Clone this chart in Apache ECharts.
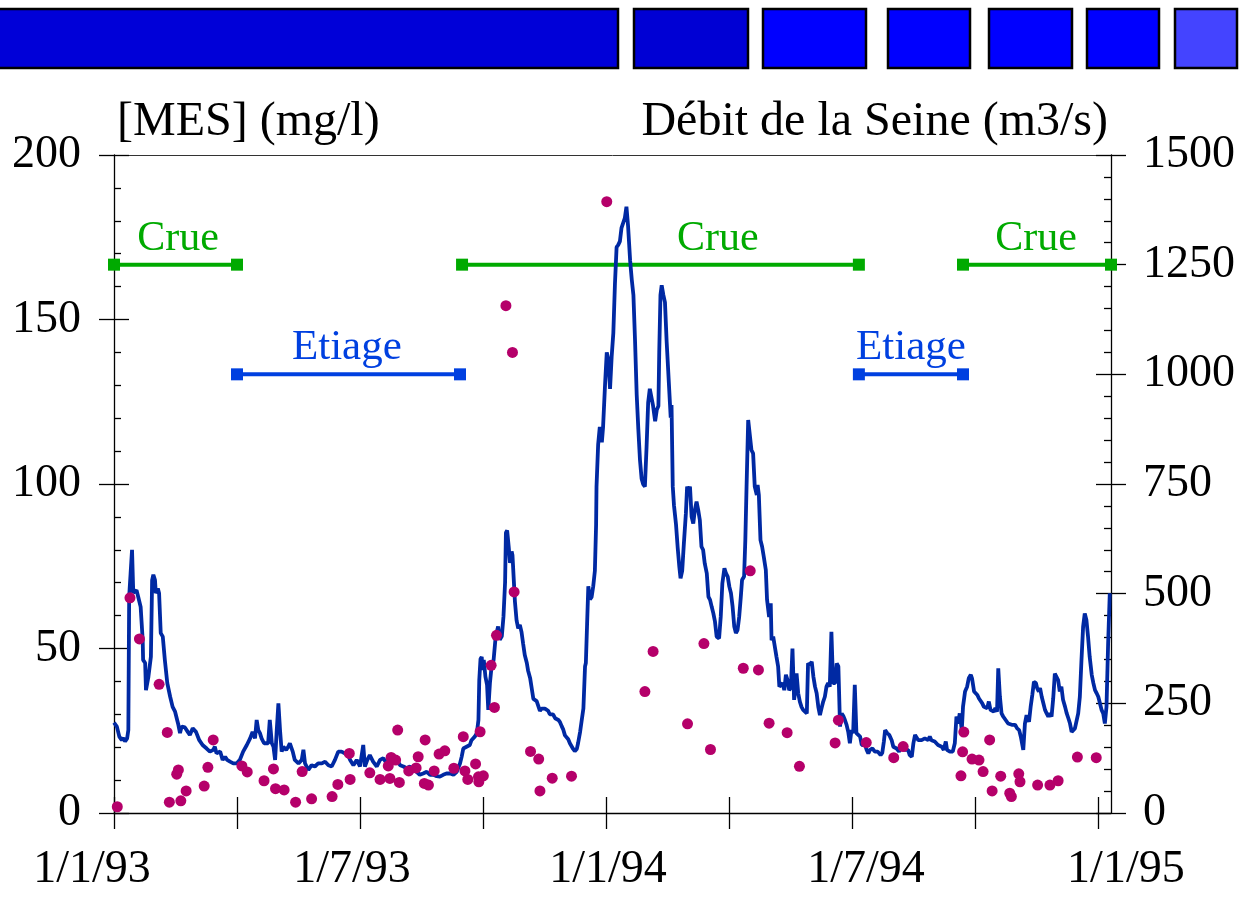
<!DOCTYPE html>
<html>
<head>
<meta charset="utf-8">
<script src="https://cdn.jsdelivr.net/npm/echarts@6/dist/echarts.min.js"></script>
<style>html,body{margin:0;padding:0;background:#fff}#c{width:1240px;height:897px}</style>
</head>
<body>
<div id="c"></div>
<script>
// x values are months since 1/1/93
const xTickMonths = [0, 3, 6, 9, 12, 15, 18, 21, 24];
const xLabelMonths = [0, 6, 12, 18, 24];
const xLabels = ['1/1/93', '1/7/93', '1/1/94', '1/7/94', '1/1/95'];

// Débit de la Seine (m3/s) : [month, flow]
const flow = [[0.00,206],[0.07,197],[0.13,174],[0.19,166],[0.23,171],[0.27,163],[0.32,170],[0.35,189],[0.37,493],[0.44,600],[0.47,502],[0.51,504],[0.55,508],[0.59,493],[0.65,470],[0.70,394],[0.71,349],[0.76,342],[0.78,280],[0.84,311],[0.90,356],[0.93,531],[0.96,543],[1.00,531],[1.02,501],[1.07,512],[1.10,501],[1.14,410],[1.19,402],[1.24,349],[1.30,296],[1.37,265],[1.43,242],[1.49,231],[1.57,201],[1.61,182],[1.65,197],[1.73,195],[1.80,185],[1.85,178],[1.92,193],[2.00,185],[2.08,166],[2.16,155],[2.26,147],[2.34,140],[2.42,144],[2.46,151],[2.50,136],[2.59,140],[2.65,121],[2.71,128],[2.76,121],[2.83,117],[2.91,113],[2.99,113],[3.07,121],[3.15,140],[3.24,155],[3.32,170],[3.38,185],[3.44,170],[3.48,212],[3.52,189],[3.56,182],[3.60,170],[3.66,159],[3.76,159],[3.80,212],[3.85,159],[3.89,151],[3.93,121],[3.97,189],[4.01,250],[4.05,189],[4.09,140],[4.13,151],[4.20,144],[4.25,151],[4.29,159],[4.36,140],[4.41,121],[4.50,113],[4.58,121],[4.62,144],[4.66,113],[4.74,98],[4.82,109],[4.90,106],[4.98,113],[5.07,113],[5.15,117],[5.23,109],[5.31,106],[5.39,121],[5.47,140],[5.55,140],[5.63,136],[5.71,132],[5.76,121],[5.84,109],[5.92,121],[6.00,106],[6.08,155],[6.12,106],[6.18,121],[6.24,132],[6.32,117],[6.41,106],[6.49,121],[6.57,125],[6.65,113],[6.73,117],[6.81,125],[6.90,121],[6.98,109],[7.06,106],[7.14,102],[7.22,106],[7.30,98],[7.38,94],[7.46,87],[7.54,90],[7.63,94],[7.71,87],[7.79,87],[7.87,84],[7.95,83],[8.03,87],[8.11,90],[8.20,90],[8.28,87],[8.36,94],[8.44,113],[8.48,128],[8.52,147],[8.60,151],[8.68,155],[8.72,166],[8.76,163],[8.80,174],[8.85,182],[8.89,212],[8.91,303],[8.94,351],[8.97,356],[8.99,326],[9.02,349],[9.06,311],[9.10,292],[9.13,235],[9.17,296],[9.21,334],[9.26,349],[9.31,402],[9.37,425],[9.41,395],[9.46,403],[9.50,447],[9.54,526],[9.56,639],[9.59,644],[9.63,605],[9.66,570],[9.70,596],[9.72,588],[9.76,517],[9.78,482],[9.82,439],[9.86,421],[9.90,429],[9.94,413],[9.98,386],[10.02,360],[10.07,342],[10.10,325],[10.15,308],[10.19,308],[10.23,260],[10.31,255],[10.39,233],[10.43,238],[10.51,238],[10.59,233],[10.63,225],[10.71,225],[10.76,216],[10.84,212],[10.88,207],[10.92,198],[10.96,190],[11.00,177],[11.08,168],[11.12,159],[11.16,155],[11.20,146],[11.24,141],[11.29,146],[11.32,159],[11.37,185],[11.41,212],[11.45,238],[11.49,334],[11.51,342],[11.54,430],[11.57,517],[11.61,487],[11.65,492],[11.69,517],[11.73,552],[11.76,657],[11.77,744],[11.81,840],[11.85,880],[11.90,845],[11.93,880],[11.98,980],[12.02,1050],[12.06,1033],[12.10,967],[12.14,1041],[12.18,1094],[12.22,1207],[12.26,1290],[12.30,1295],[12.34,1303],[12.38,1334],[12.42,1338],[12.46,1356],[12.50,1382],[12.54,1338],[12.59,1259],[12.63,1216],[12.67,1181],[12.71,1076],[12.75,954],[12.79,875],[12.83,805],[12.87,762],[12.91,749],[12.95,744],[12.99,832],[13.03,936],[13.07,967],[13.11,964],[13.15,928],[13.20,893],[13.24,919],[13.28,928],[13.30,1050],[13.33,1181],[13.36,1203],[13.40,1181],[13.44,1164],[13.48,1076],[13.52,1006],[13.56,936],[13.58,901],[13.60,930],[13.63,744],[13.66,701],[13.71,657],[13.75,605],[13.79,561],[13.82,535],[13.86,552],[13.90,613],[13.95,683],[13.98,744],[14.02,735],[14.05,744],[14.09,675],[14.13,660],[14.17,691],[14.21,710],[14.25,691],[14.29,668],[14.33,607],[14.37,600],[14.41,569],[14.46,546],[14.50,493],[14.54,486],[14.58,470],[14.62,455],[14.66,436],[14.70,402],[14.76,398],[14.80,447],[14.84,524],[14.89,558],[14.93,546],[14.97,539],[15.01,516],[15.05,501],[15.09,470],[15.13,425],[15.17,410],[15.21,417],[15.25,447],[15.29,493],[15.32,531],[15.37,539],[15.40,622],[15.43,744],[15.47,896],[15.51,892],[15.55,827],[15.59,820],[15.63,744],[15.68,725],[15.70,748],[15.73,725],[15.77,622],[15.81,607],[15.85,584],[15.90,554],[15.93,486],[15.98,447],[16.02,478],[16.04,394],[16.08,402],[16.12,379],[16.16,356],[16.20,334],[16.23,288],[16.27,288],[16.31,296],[16.35,280],[16.39,315],[16.43,303],[16.47,280],[16.51,285],[16.55,375],[16.59,258],[16.62,280],[16.65,318],[16.69,273],[16.73,254],[16.77,242],[16.81,235],[16.90,227],[16.93,341],[16.98,337],[17.02,345],[17.06,311],[17.10,288],[17.14,273],[17.18,242],[17.22,223],[17.26,239],[17.30,254],[17.34,265],[17.38,288],[17.42,296],[17.46,288],[17.50,413],[17.54,296],[17.59,296],[17.63,341],[17.67,334],[17.71,197],[17.75,227],[17.79,221],[17.83,212],[17.87,201],[17.91,185],[17.95,159],[17.99,189],[18.03,182],[18.07,292],[18.11,182],[18.15,182],[18.20,174],[18.24,155],[18.28,159],[18.32,155],[18.36,144],[18.40,136],[18.44,144],[18.50,147],[18.56,140],[18.63,140],[18.70,132],[18.74,137],[18.78,163],[18.81,189],[18.86,182],[18.91,178],[18.97,166],[19.01,151],[19.09,147],[19.15,140],[19.21,151],[19.29,144],[19.37,144],[19.41,132],[19.46,128],[19.50,159],[19.54,178],[19.62,166],[19.70,166],[19.78,170],[19.86,166],[19.90,174],[19.94,166],[20.02,163],[20.10,155],[20.19,151],[20.24,144],[20.29,163],[20.32,144],[20.39,140],[20.46,140],[20.51,159],[20.55,220],[20.59,204],[20.63,227],[20.68,189],[20.71,242],[20.76,277],[20.81,288],[20.85,307],[20.90,315],[20.93,307],[20.98,277],[21.02,280],[21.06,269],[21.10,261],[21.14,265],[21.18,250],[21.22,242],[21.26,246],[21.30,239],[21.34,254],[21.38,235],[21.42,239],[21.46,231],[21.50,239],[21.54,231],[21.57,330],[21.61,265],[21.65,227],[21.69,220],[21.75,212],[21.81,204],[21.90,201],[21.98,201],[22.03,193],[22.08,189],[22.12,174],[22.18,144],[22.22,204],[22.26,223],[22.32,208],[22.36,242],[22.40,269],[22.44,299],[22.49,296],[22.52,284],[22.56,277],[22.59,285],[22.63,265],[22.67,250],[22.71,235],[22.75,227],[22.79,220],[22.83,227],[22.87,220],[22.91,261],[22.95,318],[22.99,315],[23.03,303],[23.07,277],[23.11,288],[23.15,258],[23.20,242],[23.24,227],[23.28,216],[23.32,204],[23.36,185],[23.40,182],[23.44,193],[23.48,197],[23.52,227],[23.56,265],[23.60,349],[23.64,425],[23.68,455],[23.72,440],[23.76,402],[23.80,356],[23.85,315],[23.89,296],[23.93,280],[23.97,273],[24.01,265],[24.05,250],[24.09,235],[24.13,227],[24.17,204],[24.21,242],[24.25,387],[24.29,501]];

// [MES] (mg/l) : [month, concentration]
const mes = [[0.08,1.9],[0.39,65.4],[0.62,52.9],[1.10,39.1],[1.30,24.5],[1.35,3.3],[1.53,11.8],[1.57,13.1],[1.63,3.7],[1.76,6.7],[2.20,8.2],[2.29,13.9],[2.42,22.2],[3.12,14.3],[3.25,12.5],[3.66,9.8],[3.89,13.4],[3.94,7.4],[4.15,7.0],[4.43,3.3],[4.59,12.6],[4.82,4.3],[5.32,5.0],[5.46,8.7],[5.74,18.1],[5.76,10.2],[6.24,12.2],[6.49,10.2],[6.69,14.3],[6.73,10.5],[6.76,16.9],[6.87,16.1],[6.92,25.2],[6.96,9.3],[7.19,12.8],[7.37,13.7],[7.42,17.1],[7.57,9.0],[7.59,22.2],[7.67,8.5],[7.81,12.8],[7.93,17.9],[8.07,18.9],[8.29,13.6],[8.52,23.2],[8.56,12.8],[8.63,10.2],[8.82,14.9],[8.89,11.0],[8.90,9.5],[8.93,24.7],[9.01,11.3],[9.20,44.9],[9.28,32.1],[9.33,54.0],[9.56,154.2],[9.72,140.0],[9.76,67.2],[10.16,18.7],[10.36,16.4],[10.39,6.7],[10.69,10.6],[11.16,11.2],[12.02,185.8],[12.95,36.9],[13.15,49.1],[13.99,27.1],[14.39,51.5],[14.55,19.3],[15.35,44.0],[15.52,73.6],[15.72,43.5],[15.98,27.3],[16.42,24.4],[16.72,14.2],[17.59,21.3],[17.67,28.2],[18.35,21.4],[19.02,16.8],[19.25,20.2],[20.66,11.3],[20.70,18.6],[20.73,24.6],[20.93,16.4],[21.10,16.1],[21.20,12.6],[21.36,22.2],[21.42,6.7],[21.63,11.2],[21.85,6.0],[21.89,5.0],[22.07,11.9],[22.10,9.5],[22.53,8.5],[22.83,8.5],[23.03,9.8],[23.50,17.0],[23.96,16.8]];

// Hydrological periods (month ranges) drawn at a level of the flow axis
const cruePeriods = [[0, 3.0], [8.49, 18.17], [20.71, 24.32]];
const etiagePeriods = [[3.0, 8.44], [18.17, 20.71]];
const crueLevel = 1250;
const etiageLevel = 1000;
const crueLabelX = [1.56, 14.73, 22.49];
const etiageLabelX = [5.68, 19.44];

const serif = '"Liberation Serif", "DejaVu Serif", serif';
const GREEN = '#00aa00';
const BLUE = '#0040e0';
const xMax = 24.32;
const labelShift = [-22, -8, 2, 14, 28];

const rich = {};
labelShift.forEach((s, i) => {
  rich['l' + i] = {
    fontFamily: serif, fontSize: 46, color: '#000',
    padding: s < 0 ? [0, -2 * s, 0, 0] : [0, 0, 0, 2 * s]
  };
});

const tickStyle = { color: '#000', width: 1.3 };

const series = [];
cruePeriods.forEach(p => series.push({
  type: 'line', xAxisIndex: 0, yAxisIndex: 2, silent: true, z: 2,
  data: [[p[0], crueLevel], [p[1], crueLevel]],
  symbol: 'rect', symbolSize: 12, showSymbol: true,
  lineStyle: { color: GREEN, width: 4 }, itemStyle: { color: GREEN, opacity: 1 }
}));
etiagePeriods.forEach(p => series.push({
  type: 'line', xAxisIndex: 0, yAxisIndex: 2, silent: true, z: 2,
  data: [[p[0], etiageLevel], [p[1], etiageLevel]],
  symbol: 'rect', symbolSize: 12, showSymbol: true,
  lineStyle: { color: BLUE, width: 4 }, itemStyle: { color: BLUE, opacity: 1 }
}));
series.push({
  type: 'scatter', xAxisIndex: 0, yAxisIndex: 2, silent: true, symbolSize: 0, z: 2,
  itemStyle: { opacity: 1 },
  data: crueLabelX.map(x => [x, crueLevel]),
  label: { show: true, position: 'top', distance: 5, formatter: 'Crue', opacity: 1,
           fontFamily: serif, fontSize: 42, color: GREEN }
});
series.push({
  type: 'scatter', xAxisIndex: 0, yAxisIndex: 2, silent: true, symbolSize: 0, z: 2,
  itemStyle: { opacity: 1 },
  data: etiageLabelX.map(x => [x, etiageLevel]),
  label: { show: true, position: 'top', distance: 5, formatter: 'Etiage', opacity: 1,
           fontFamily: serif, fontSize: 43, color: BLUE }
});
series.push({
  name: 'Débit', type: 'line', xAxisIndex: 0, yAxisIndex: 2, z: 3,
  data: flow, showSymbol: false, symbol: 'none',
  lineStyle: { color: '#0029a3', width: 3.8 }
});
series.push({
  name: 'MES', type: 'scatter', xAxisIndex: 0, yAxisIndex: 0, z: 4,
  data: mes, symbolSize: 11, itemStyle: { color: '#b5006a', opacity: 1 }
});

const chart = echarts.init(document.getElementById('c'), null, { renderer: 'canvas' });
chart.setOption({
  animation: false,
  backgroundColor: '#fff',
  grid: { left: 114, right: 129, top: 155, bottom: 84, containLabel: false, outerBoundsMode: 'none' },
  xAxis: [
    { type: 'value', min: 0, max: xMax, position: 'bottom',
      axisLine: { onZero: false, lineStyle: tickStyle },
      axisTick: { show: true, length: 16, customValues: xTickMonths, lineStyle: tickStyle },
      axisLabel: { customValues: xLabelMonths, margin: 34, rich: rich,
        formatter: v => { const i = xLabelMonths.indexOf(v); return i < 0 ? '' : '{l' + i + '|' + xLabels[i] + '}'; } },
      splitLine: { show: false } },
    { type: 'value', min: 0, max: xMax, position: 'bottom',
      axisLine: { show: false, onZero: false },
      axisTick: { show: true, inside: true, length: 16, customValues: xTickMonths, lineStyle: tickStyle },
      axisLabel: { show: false }, splitLine: { show: false } },
    { type: 'value', min: 0, max: xMax, position: 'top',
      axisLine: { onZero: false, lineStyle: { color: '#333', width: 1 } },
      axisTick: { show: false }, axisLabel: { show: false }, splitLine: { show: false } }
  ],
  yAxis: [
    { type: 'value', min: 0, max: 200, interval: 50, position: 'left',
      name: '[MES] (mg/l)', nameLocation: 'end', nameGap: 33,
      nameTextStyle: { fontFamily: serif, fontSize: 48, color: '#000', align: 'left', verticalAlign: 'middle', padding: [0, 0, 0, 3] },
      axisLine: { show: true, onZero: false, lineStyle: tickStyle },
      axisTick: { show: true, length: 15, lineStyle: tickStyle },
      axisLabel: { margin: 33, fontFamily: serif, fontSize: 46, color: '#000', formatter: v => String(v) },
      splitLine: { show: false } },
    { type: 'value', min: 0, max: 200, interval: 50, position: 'left',
      axisLine: { show: false, onZero: false },
      axisTick: { show: true, inside: true, length: 15, lineStyle: tickStyle },
      minorTick: { show: true, splitNumber: 5, length: 7, lineStyle: tickStyle },
      axisLabel: { show: false }, splitLine: { show: false } },
    { type: 'value', min: 0, max: 1500, interval: 250, position: 'right',
      name: 'Débit de la Seine (m3/s)', nameLocation: 'end', nameGap: 33,
      nameTextStyle: { fontFamily: serif, fontSize: 48, color: '#000', align: 'right', verticalAlign: 'middle', padding: [0, 3, 0, 0] },
      axisLine: { show: true, onZero: false, lineStyle: tickStyle },
      axisTick: { show: true, length: 15, lineStyle: tickStyle },
      axisLabel: { margin: 32, fontFamily: serif, fontSize: 46, color: '#000', formatter: v => String(v) },
      splitLine: { show: false } },
    { type: 'value', min: 0, max: 1500, interval: 250, position: 'right',
      axisLine: { show: false, onZero: false },
      axisTick: { show: true, inside: true, length: 15, lineStyle: tickStyle },
      minorTick: { show: true, splitNumber: 5, length: 7, lineStyle: tickStyle },
      axisLabel: { show: false }, splitLine: { show: false } }
  ],
  graphic: [
    { type: 'rect', shape: { x: -3, y: 9, width: 621, height: 59 }, style: { fill: '#0000d8', stroke: '#000', lineWidth: 2.5 } },
    { type: 'rect', shape: { x: 634, y: 9, width: 114, height: 59 }, style: { fill: '#0000d4', stroke: '#000', lineWidth: 2.5 } },
    { type: 'rect', shape: { x: 763, y: 9, width: 103, height: 59 }, style: { fill: '#0000ff', stroke: '#000', lineWidth: 2.5 } },
    { type: 'rect', shape: { x: 888, y: 9, width: 82, height: 59 }, style: { fill: '#0000ff', stroke: '#000', lineWidth: 2.5 } },
    { type: 'rect', shape: { x: 989, y: 9, width: 83, height: 59 }, style: { fill: '#0000ff', stroke: '#000', lineWidth: 2.5 } },
    { type: 'rect', shape: { x: 1087, y: 9, width: 72, height: 59 }, style: { fill: '#0000ff', stroke: '#000', lineWidth: 2.5 } },
    { type: 'rect', shape: { x: 1175, y: 9, width: 62, height: 59 }, style: { fill: '#4444ff', stroke: '#000', lineWidth: 2.5 } }
  ],
  series: series
});
</script>
</body>
</html>
